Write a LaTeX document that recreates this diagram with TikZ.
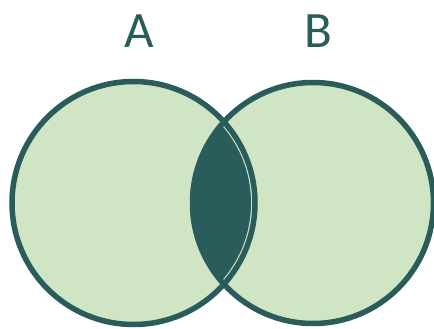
\documentclass[tikz,border=0pt]{standalone}
\usepackage{fontspec}
\setmainfont{Carlito}
\definecolor{tealdark}{HTML}{2A5C5C}
\definecolor{lightgreen}{HTML}{D0E5C3}
\tikzset{
  setring/.style={draw=tealdark, line width=5.5pt},
  setfill/.style={fill=lightgreen},
  setlabel/.style={text=tealdark, font=\fontsize{51}{51}\selectfont, inner sep=0pt, anchor=center}
}
\begin{document}
\begin{tikzpicture}[x=1pt,y=-1pt]
\useasboundingbox (0,0) rectangle (434,329);
\coordinate (ca) at (133.5,203);
\coordinate (cb) at (313,203);
% fills
\fill[setfill] (ca) circle[radius=121.5];
\fill[setfill] (cb) circle[radius=120.5];
% rings
\draw[setring] (ca) circle[radius=121.5];
\draw[setring] (cb) circle[radius=120.5];
% intersection
\begin{scope}
  \clip (cb) circle[radius=123];
  \fill[tealdark] (ca) circle[radius=117.5];
\end{scope}
% labels
\node[setlabel] (la) at (139,31) {A};
\node[setlabel] (lb) at (318,31) {B};
\end{tikzpicture}
\end{document}
